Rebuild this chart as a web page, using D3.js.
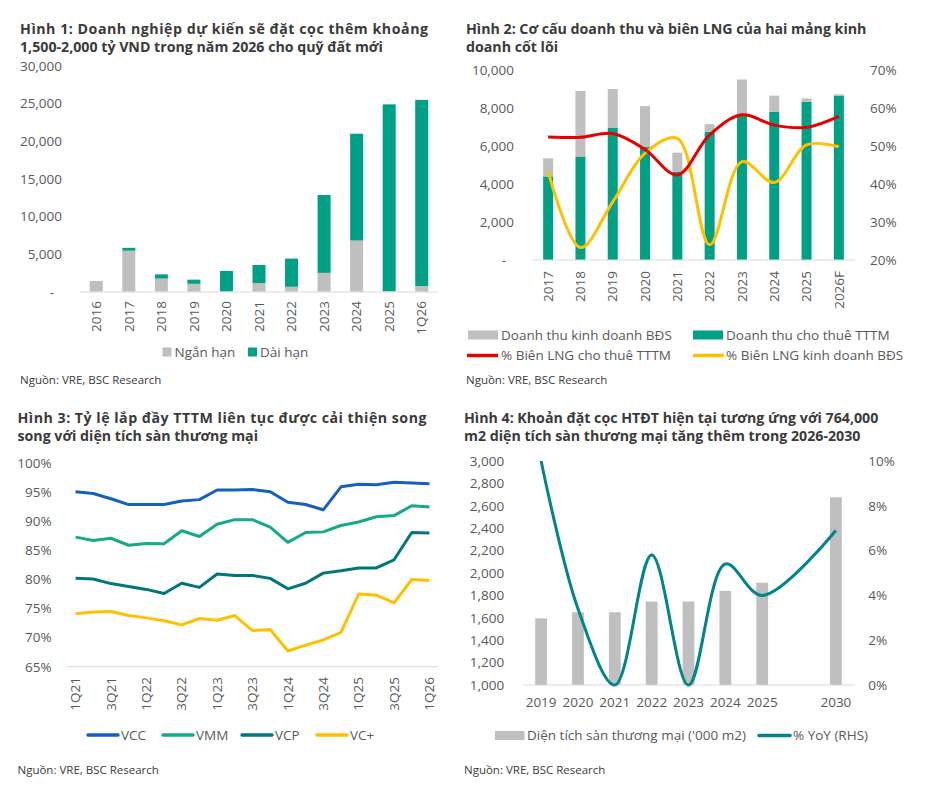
<!DOCTYPE html>
<html><head><meta charset="utf-8">
<script src="https://cdn.jsdelivr.net/npm/d3@7"></script>
<style>
body{margin:0;background:#fff;}
svg text{font-family:"Open Sans",sans-serif;}
</style></head>
<body><svg id="c" width="925" height="800"></svg>
<script>
// ---------- DATA ----------
// Panel 1
const cats1 = ["2016","2017","2018","2019","2020","2021","2022","2023","2024","2025","1Q26"];
const shortTerm1 = [1420,5450,1750,1050,30,1150,650,2500,6800,50,750];
const longTerm1  = [0,380,550,550,2730,2400,3750,10350,14200,24850,24750];
const ticks1 = [0,5000,10000,15000,20000,25000,30000];
// Panel 2
const cats2 = ["2017","2018","2019","2020","2021","2022","2023","2024","2025","2026F"];
const rentRev2 = [4400,5450,6950,5950,4650,6750,7650,7800,8330,8630];
const propRev2 = [950,3450,2050,2150,1000,400,1850,850,170,90];
const rentMargin2 = [52.4,52.3,53.3,49.1,42.4,52.9,58.2,55.5,54.9,57.8];
const propMargin2 = [43.2,23.3,35.3,48.1,52.0,24.0,45.9,40.4,50.3,49.8];
const ticksL2 = [0,2000,4000,6000,8000,10000];
const ticksR2 = [20,30,40,50,60,70];
// Panel 3
const quarters3 = ["1Q21","2Q21","3Q21","4Q21","1Q22","2Q22","3Q22","4Q22","1Q23","2Q23","3Q23","4Q23","1Q24","2Q24","3Q24","4Q24","1Q25","2Q25","3Q25","4Q25","1Q26"];
const vcc3 = [95.1,94.8,93.9,92.9,92.9,92.9,93.5,93.75,95.4,95.4,95.5,95.1,93.3,92.9,92.0,95.95,96.4,96.3,96.75,96.6,96.5];
const vmm3 = [87.3,86.7,87.1,85.9,86.2,86.15,88.4,87.4,89.5,90.3,90.3,89.0,86.4,88.1,88.2,89.3,89.9,90.8,91.0,92.7,92.5];
const vcp3 = [80.2,80.1,79.3,78.8,78.3,77.6,79.35,78.65,80.95,80.7,80.7,80.2,78.4,79.35,81.1,81.5,82.0,82.0,83.4,88.1,88.0];
const vcplus3 = [74.1,74.4,74.5,73.8,73.4,72.9,72.2,73.3,73.0,73.8,71.2,71.4,67.7,68.7,69.6,70.9,77.5,77.3,76.0,80.0,79.85];
const ticks3 = [65,70,75,80,85,90,95,100];
// Panel 4
const cats4 = ["2019","2020","2021","2022","2023","2024","2025"," ","2030"];
const area4 = [1595,1650,1650,1745,1745,1840,1913,null,2676];
const yoy4  = [0.100,0.034,0.000,0.058,0.000,0.054,0.040,null,0.069];
const ticksL4 = [1000,1200,1400,1600,1800,2000,2200,2400,2600,2800,3000];
const ticksR4 = [0,0.02,0.04,0.06,0.08,0.10];

// ---------- STYLE ----------
const GRAY="#BFBFBF", GREEN="#00A086", RED="#E60000", YEL="#FFC000";
const BLUE="#1560BD", VMMC="#17A98B", VCPC="#00767A", TEAL4="#00858A";
const AX="#D9D9D9", LBL="#595959", TTL="#3A3A3A";

const svg = d3.select("#c");
svg.append("rect").attr("width",925).attr("height",800).attr("fill","#fff");

function title(x, y, lines, justifyW){
  lines.forEach((t,i)=>{
    const el = svg.append("text").attr("x",x).attr("y",y+i*18.5)
      .attr("font-size",14.2).attr("font-weight",700).attr("fill",TTL).text(t);
    if(i===0 && justifyW){ el.attr("textLength",justifyW).attr("lengthAdjust","spacing"); }
  });
}
function source(x,y){
  svg.append("text").attr("x",x).attr("y",y).attr("font-size",11.5).attr("fill",TTL).text("Nguồn: VRE, BSC Research");
}
function styleAxis(g){
  g.select(".domain").remove();
  g.selectAll("text").attr("fill",LBL).attr("font-size",13.5).attr("font-family","Open Sans");
}
function rotLabels(scale, cats, yTop, offset){
  const g = svg.append("g");
  cats.forEach(c=>{
    const cx = scale(c) + offset;
    g.append("text").attr("transform",`translate(${cx},${yTop}) rotate(-90)`)
      .attr("text-anchor","end").attr("dy","0.35em")
      .attr("font-size",13.5).attr("fill",LBL).text(c);
  });
}
const fmtK = d => d===0 ? "-" : d3.format(",")(d);

// ---------- PANEL 1 ----------
title(20, 33.5, ["Hình 1: Doanh nghiệp dự kiến sẽ đặt cọc thêm khoảng","1,500-2,000 tỷ VND trong năm 2026 cho quỹ đất mới"], 408);
{
  const x = d3.scaleBand().domain(cats1).range([80,438]).paddingInner(0.6).paddingOuter(0.3);
  const y = d3.scaleLinear().domain([0,30000]).range([291.7,66]);
  const ga = svg.append("g").attr("transform","translate(80,0)")
    .call(d3.axisLeft(y).tickValues(ticks1).tickFormat(fmtK).tickSize(0).tickPadding(18));
  styleAxis(ga);
  ga.selectAll(".tick").filter(d=>d===0).select("text").attr("dx",-8);
  svg.append("g").selectAll("rect").data(cats1).join("rect")
    .attr("x",d=>x(d)).attr("width",x.bandwidth())
    .attr("y",(d,i)=>y(shortTerm1[i])).attr("height",(d,i)=>y(0)-y(shortTerm1[i])).attr("fill",GRAY);
  svg.append("g").selectAll("rect").data(cats1).join("rect")
    .attr("x",d=>x(d)).attr("width",x.bandwidth())
    .attr("y",(d,i)=>y(shortTerm1[i]+longTerm1[i])).attr("height",(d,i)=>y(shortTerm1[i])-y(shortTerm1[i]+longTerm1[i])).attr("fill",GREEN);
  svg.append("line").attr("x1",80).attr("x2",438).attr("y1",292).attr("y2",292).attr("stroke",AX);
  rotLabels(x, cats1, 301, x.bandwidth()/2);
  // legend
  svg.append("rect").attr("x",162.5).attr("y",347.5).attr("width",9).attr("height",9).attr("fill",GRAY);
  svg.append("text").attr("x",174.5).attr("y",357).attr("font-size",13.5).attr("fill",LBL).text("Ngắn hạn");
  svg.append("rect").attr("x",248).attr("y",347.5).attr("width",9).attr("height",9).attr("fill",GREEN);
  svg.append("text").attr("x",260).attr("y",357).attr("font-size",13.5).attr("fill",LBL).text("Dài hạn");
  source(20, 384);
}

// ---------- PANEL 2 ----------
title(466, 33.5, ["Hình 2: Cơ cấu doanh thu và biên LNG của hai mảng kinh","doanh cốt lõi"], null);
{
  const x = d3.scaleBand().domain(cats2).range([532,855]).paddingInner(0.69).paddingOuter(0.345);
  const yL = d3.scaleLinear().domain([0,10000]).range([260,70]);
  const yR = d3.scaleLinear().domain([20,70]).range([260,70]);
  const gl = svg.append("g").attr("transform","translate(532,0)")
    .call(d3.axisLeft(yL).tickValues(ticksL2).tickFormat(fmtK).tickSize(0).tickPadding(18));
  styleAxis(gl);
  gl.selectAll(".tick").filter(d=>d===0).select("text").attr("dx",-8);
  const gr = svg.append("g").attr("transform","translate(855,0)")
    .call(d3.axisRight(yR).tickValues(ticksR2).tickFormat(d=>d+"%").tickSize(0).tickPadding(15));
  styleAxis(gr);
  svg.append("g").selectAll("rect").data(cats2).join("rect")
    .attr("x",d=>x(d)).attr("width",x.bandwidth())
    .attr("y",(d,i)=>yL(rentRev2[i])).attr("height",(d,i)=>yL(0)-yL(rentRev2[i])).attr("fill",GREEN);
  svg.append("g").selectAll("rect").data(cats2).join("rect")
    .attr("x",d=>x(d)).attr("width",x.bandwidth())
    .attr("y",(d,i)=>yL(rentRev2[i]+propRev2[i])).attr("height",(d,i)=>yL(rentRev2[i])-yL(rentRev2[i]+propRev2[i])).attr("fill",GRAY);
  svg.append("line").attr("x1",532).attr("x2",855).attr("y1",260).attr("y2",260).attr("stroke",AX);
  const cx = d => x(d)+x.bandwidth()/2;
  const lineR = d3.line().x((d,i)=>cx(cats2[i])).y(d=>yR(d)).curve(d3.curveCatmullRom.alpha(0.5));
  svg.append("path").attr("d",lineR(propMargin2)).attr("fill","none").attr("stroke",YEL).attr("stroke-width",3);
  svg.append("path").attr("d",lineR(rentMargin2)).attr("fill","none").attr("stroke",RED).attr("stroke-width",3);
  rotLabels(x, cats2, 271, x.bandwidth()/2);
  // legend
  svg.append("rect").attr("x",468).attr("y",330.5).attr("width",30).attr("height",9).attr("fill",GRAY);
  svg.append("text").attr("x",501).attr("y",339.5).attr("font-size",13.5).attr("fill",LBL).text("Doanh thu kinh doanh BĐS");
  svg.append("rect").attr("x",693).attr("y",330.5).attr("width",30).attr("height",9).attr("fill",GREEN);
  svg.append("text").attr("x",726).attr("y",339.5).attr("font-size",13.5).attr("fill",LBL).text("Doanh thu cho thuê TTTM");
  svg.append("line").attr("x1",467).attr("x2",498).attr("y1",355.5).attr("y2",355.5).attr("stroke",RED).attr("stroke-width",3.5);
  svg.append("text").attr("x",501).attr("y",360).attr("font-size",13.5).attr("fill",LBL).text("% Biên LNG cho thuê TTTM");
  svg.append("line").attr("x1",693).attr("x2",724).attr("y1",355.5).attr("y2",355.5).attr("stroke",YEL).attr("stroke-width",3.5);
  svg.append("text").attr("x",726).attr("y",360).attr("font-size",13.5).attr("fill",LBL).text("% Biên LNG kinh doanh BĐS");
  source(466, 384);
}

// ---------- PANEL 3 ----------
title(17.5, 422.5, ["Hình 3: Tỷ lệ lắp đầy TTTM liên tục được cải thiện song","song với diện tích sàn thương mại"], 409);
{
  const x = d3.scalePoint().domain(quarters3).range([66.7,438.3]).padding(0.5);
  const y = d3.scaleLinear().domain([65,100]).range([666.7,463.3]);
  const ga = svg.append("g").attr("transform","translate(66.7,0)")
    .call(d3.axisLeft(y).tickValues(ticks3).tickFormat(d=>d+"%").tickSize(0).tickPadding(15));
  styleAxis(ga);
  svg.append("line").attr("x1",66.7).attr("x2",438.3).attr("y1",666.7).attr("y2",666.7).attr("stroke",AX);
  const ln = d3.line().x((d,i)=>x(quarters3[i])).y(d=>y(d));
  [[vcplus3,YEL],[vcp3,VCPC],[vmm3,VMMC],[vcc3,BLUE]].forEach(([s,c])=>{
    svg.append("path").attr("d",ln(s)).attr("fill","none").attr("stroke",c).attr("stroke-width",3).attr("stroke-linejoin","round");
  });
  rotLabels(x, quarters3.filter((q,i)=>i%2===0), 677, 0);
  const leg = [["VCC",BLUE,88],["VMM",VMMC,163],["VCP",VCPC,242],["VC+",YEL,317]];
  leg.forEach(([t,c,lx])=>{
    svg.append("line").attr("x1",lx).attr("x2",lx+30).attr("y1",735).attr("y2",735).attr("stroke",c).attr("stroke-width",3.5).attr("stroke-linecap","round");
    svg.append("text").attr("x",lx+33).attr("y",740).attr("font-size",13.5).attr("fill",LBL).text(t);
  });
  source(17.5, 774);
}

// ---------- PANEL 4 ----------
title(464, 422.5, ["Hình 4: Khoản đặt cọc HTĐT hiện tại tương ứng với 764,000","m2 diện tích sàn thương mại tăng thêm trong 2026-2030"], null);
{
  const x = d3.scaleBand().domain(cats4).range([522.7,854.3]).paddingInner(0.68).paddingOuter(0.34);
  const yL = d3.scaleLinear().domain([1000,3000]).range([685,461]);
  const yR = d3.scaleLinear().domain([0,0.10]).range([685,461]);
  const gl = svg.append("g").attr("transform","translate(522.7,0)")
    .call(d3.axisLeft(yL).tickValues(ticksL4).tickFormat(d3.format(",")).tickSize(0).tickPadding(18.5));
  styleAxis(gl);
  const gr = svg.append("g").attr("transform","translate(854.3,0)")
    .call(d3.axisRight(yR).tickValues(ticksR4).tickFormat(d3.format(".0%")).tickSize(0).tickPadding(14));
  styleAxis(gr);
  const bd = cats4.map((c,i)=>({c,v:area4[i]})).filter(d=>d.v!=null);
  svg.append("g").selectAll("rect").data(bd).join("rect")
    .attr("x",d=>x(d.c)).attr("width",x.bandwidth())
    .attr("y",d=>yL(d.v)).attr("height",d=>yL(1000)-yL(d.v)).attr("fill",GRAY);
  svg.append("line").attr("x1",522.7).attr("x2",854.3).attr("y1",685).attr("y2",685).attr("stroke",AX);
  const ld = cats4.map((c,i)=>({c,v:yoy4[i]})).filter(d=>d.v!=null);
  const ln = d3.line().x(d=>x(d.c)+x.bandwidth()/2).y(d=>yR(d.v)).curve(d3.curveCatmullRom.alpha(0.5));
  svg.append("path").attr("d",ln(ld)).attr("fill","none").attr("stroke",TEAL4).attr("stroke-width",3);
  const gx = svg.append("g").attr("transform","translate(0,685)")
    .call(d3.axisBottom(x).tickSize(0).tickPadding(12));
  styleAxis(gx);
  svg.append("rect").attr("x",495).attr("y",731).attr("width",29.5).attr("height",9).attr("fill",GRAY);
  svg.append("text").attr("x",527).attr("y",740).attr("font-size",13.5).attr("fill",LBL).text("Diện tích sàn thương mại ('000 m2)");
  svg.append("line").attr("x1",759).attr("x2",790).attr("y1",735.5).attr("y2",735.5).attr("stroke",TEAL4).attr("stroke-width",3.5).attr("stroke-linecap","round");
  svg.append("text").attr("x",793).attr("y",740).attr("font-size",13.5).attr("fill",LBL).text("% YoY (RHS)");
  source(464, 774);
}
</script></body></html>
